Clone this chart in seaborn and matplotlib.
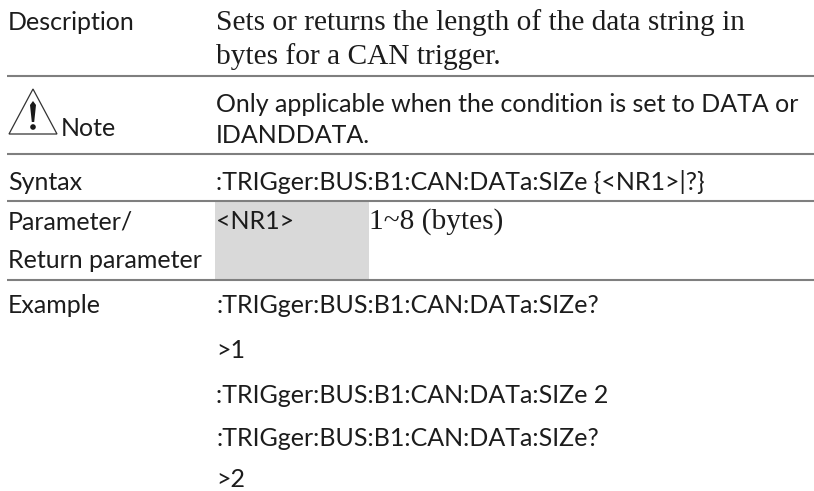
import matplotlib
matplotlib.use("Agg")
import matplotlib.pyplot as plt
import seaborn as sns
from matplotlib.patches import Polygon, Rectangle, Circle

sns.set_theme(style="white")
plt.rcParams['font.family'] = ['Lato', 'DejaVu Sans']

SANS = 'Lato'
SERIF = 'Liberation Serif'
INK = '#1c1c1c'
SZ = 18.0
SZ_SERIF = 21.2

# table content
row_labels = ["Description", "Note", "Syntax", "Parameter/", "Return parameter", "Example"]
row_label_y = [30, 136, 190, 229, 268, 313]
rule_y = [76, 154, 201, 280]

description = ["Sets or returns the length of the data string in", "bytes for a CAN trigger."]
description_y = [30, 64]
note = ["Only applicable when the condition is set to DATA or", "IDANDDATA."]
note_y = [112, 143]
syntax = ":TRIGger:BUS:B1:CAN:DATa:SIZe {<NR1>|?}"
syntax_y = 190
param_name = "<NR1>"
param_value = "1~8 (bytes)"
param_y = 229
example = [":TRIGger:BUS:B1:CAN:DATa:SIZe?", ">1", ":TRIGger:BUS:B1:CAN:DATa:SIZe 2",
           ":TRIGger:BUS:B1:CAN:DATa:SIZe?", ">2"]
example_y = [313, 358, 403, 446, 487]

fig, ax = plt.subplots(figsize=(8.14, 4.91), dpi=100)
fig.subplots_adjust(0, 0, 1, 1)
ax.set_xlim(0, 814)
ax.set_ylim(491, 0)
ax.axis('off')

# shaded parameter cell
ax.add_patch(Rectangle((215, 201), 154, 79, fc='#d9d9d9', ec='none'))
ax.hlines(rule_y, 7, 814, color='#7f7f7f', lw=1.5)


def put(x, y, s, family=SANS, size=SZ):
    ax.text(x, y, s, family=family, fontsize=size, color=INK, ha='left', va='baseline')


for lab, y in zip(row_labels, row_label_y):
    put(61 if lab == "Note" else 8, y, lab)
for line, y in zip(description, description_y):
    put(216, y, line, SERIF, SZ_SERIF)
for line, y in zip(note, note_y):
    put(216, y, line)
put(216, syntax_y, syntax)
put(216, param_y, param_name)
put(369, param_y, param_value, SERIF, SZ_SERIF)
for line, y in zip(example, example_y):
    put(216, y, line)

# warning triangle
ax.add_patch(Polygon([(33, 89), (9, 134), (57, 134)], closed=True, fc='white', ec='#333333', lw=0.9))
ax.add_patch(Polygon([(30, 105), (33, 101), (36, 105), (34.2, 122), (31.8, 122)], closed=True, fc='#1a1a1a', ec='none'))
ax.add_patch(Circle((33, 127), 2.8, fc='#1a1a1a', ec='none'))

sns.despine(ax=ax, left=True, bottom=True)
fig.savefig("out.png", dpi=100)
